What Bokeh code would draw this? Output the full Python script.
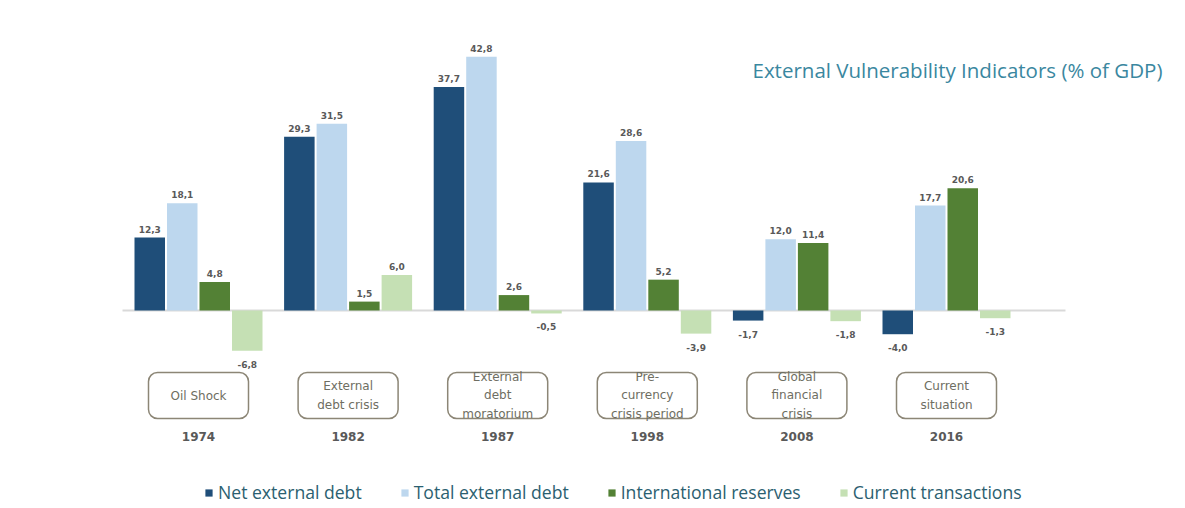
from bokeh.plotting import figure
from bokeh.models import ColumnDataSource, Range1d, Label, Legend, LegendItem
from bokeh.core.properties import value
from bokeh.embed import file_html
from bokeh.resources import INLINE

# ---------------- data ----------------
years = ["1974", "1982", "1987", "1998", "2008", "2016"]
events = ["Oil Shock", "External\ndebt crisis", "External\ndebt\nmoratorium",
          "Pre-\ncurrency\ncrisis period", "Global\nfinancial\ncrisis", "Current\nsituation"]
series_names = ["Net external debt", "Total external debt",
                "International reserves", "Current transactions"]
net_external_debt = [12.3, 29.3, 37.7, 21.6, -1.7, -4.0]
total_external_debt = [18.1, 31.5, 42.8, 28.6, 12.0, 17.7]
international_reserves = [4.8, 1.5, 2.6, 5.2, 11.4, 20.6]
current_transactions = [-6.8, 6.0, -0.5, -3.9, -1.8, -1.3]
title_text = "External Vulnerability Indicators (% of GDP)"

series_values = [net_external_debt, total_external_debt,
                 international_reserves, current_transactions]
colors = ["#1f4e79", "#bdd7ee", "#538135", "#c5e0b4"]

# ---------------- layout ----------------
W, H = 1185, 508
PX_GROUP = 149.6      # px between group centres
PX_UNIT = 5.93        # px per % of GDP
X0_PX = 198           # px of first group centre
ZERO_PX = 310         # px of zero line from top
STEP = 32.5 / PX_GROUP
BAR_W = 30.5 / PX_GROUP

def px_x(px):
    return (px - X0_PX) / PX_GROUP

def px_y(px):
    return (ZERO_PX - px) / PX_UNIT

p = figure(width=W, height=H,
           x_range=Range1d(px_x(0), px_x(W)), y_range=Range1d(px_y(H), px_y(0)),
           output_backend="svg", toolbar_location=None, min_border=0,
           x_axis_location=None, y_axis_location=None)
p.grid.visible = False
p.outline_line_color = None
p.background_fill_color = "white"
p.border_fill_color = "white"

# zero line
p.segment(x0=[px_x(122)], y0=[0], x1=[px_x(1065)], y1=[0],
          line_color="#d9d9d9", line_width=2)

n = len(years)
legend_items = []
label_font = value("DejaVu Sans")
for k, (name, vals, col) in enumerate(zip(series_names, series_values, colors)):
    xs = [i + (k - 1.5) * STEP for i in range(n)]
    src = ColumnDataSource(dict(x=xs, top=vals))
    r = p.vbar(x="x", top="top", bottom=0, width=BAR_W, source=src,
               fill_color=col, line_color=None)
    legend_items.append(LegendItem(label=name, renderers=[r]))

    pos = [(x, v) for x, v in zip(xs, vals) if v >= 0]
    neg = [(x, v) for x, v in zip(xs, vals) if v < 0]
    if pos:
        p.text(x=[a for a, _ in pos], y=[b for _, b in pos],
               text=[f"{b:.1f}".replace(".", ",") for _, b in pos],
               text_font=label_font, text_font_size="9px", text_font_style="bold",
               text_color="#595959", text_align="center", text_baseline="bottom",
               y_offset=-5)
    if neg:
        p.text(x=[a for a, _ in neg], y=[b for _, b in neg],
               text=[f"{b:.1f}".replace(".", ",") for _, b in neg],
               text_font=label_font, text_font_size="9px", text_font_style="bold",
               text_color="#595959", text_align="center", text_baseline="top",
               y_offset=10)

# event boxes
gx = list(range(n))
half = 50 / PX_GROUP
p.quad(left=[g - half for g in gx], right=[g + half for g in gx],
       top=px_y(372), bottom=px_y(418), fill_color="white",
       line_color="#8c8676", line_width=1.5, border_radius=9)
p.text(x=gx, y=[px_y(395)] * n, text=events, text_font=value("DejaVu Sans"),
       text_font_size="12px", text_color="#6e6e62", text_align="center",
       text_baseline="middle", text_line_height=1.35)
p.text(x=gx, y=[px_y(436)] * n, text=years, text_font=value("DejaVu Sans"),
       text_font_size="12px", text_font_style="bold", text_color="#595959",
       text_align="center", text_baseline="middle")

# title
p.add_layout(Label(x=px_x(752), y=px_y(69), text=title_text, text_font="Open Sans",
                   text_font_size="20.5px", text_color="#3a87a0",
                   text_baseline="middle", text_align="left"))

legend = Legend(items=legend_items, orientation="horizontal",
                location=(204, 4), glyph_width=9, glyph_height=9,
                label_standoff=5, spacing=38, padding=0, margin=0,
                label_text_font="Open Sans", label_text_font_size="17.6px",
                label_text_color="#2b6070", border_line_color=None,
                background_fill_alpha=0)
p.add_layout(legend)

open("out.html", "w").write(file_html(p, INLINE))
